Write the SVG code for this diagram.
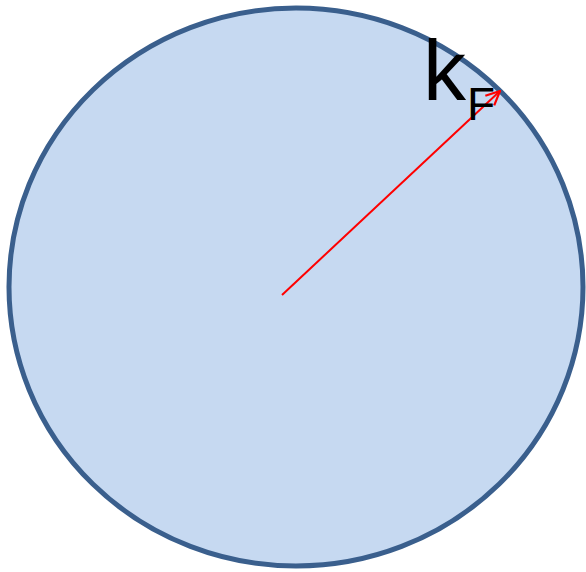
<svg xmlns="http://www.w3.org/2000/svg" width="586" height="572" viewBox="0 0 586 572">
<style>
.lbl{font-family:"Liberation Sans",Arial,sans-serif;fill:#000}
</style>
<defs>
<marker id="arr" viewBox="0 0 16 16" refX="15" refY="8" markerWidth="16" markerHeight="16" markerUnits="userSpaceOnUse" orient="auto">
<path d="M1,1.5 L15,8 L1,14.5" fill="none" stroke="#FF0000" stroke-width="2.2"/>
</marker>
</defs>
<g id="sphere">
<ellipse cx="296" cy="287" rx="287" ry="279" fill="#C6D9F1" stroke="#3A5F8D" stroke-width="5"/>
</g>
<g id="connectors">
<line x1="282" y1="295" x2="500" y2="91" stroke="#FF0000" stroke-width="2" marker-end="url(#arr)"/>
</g>
<g id="label">
<text class="lbl" x="423" y="100" font-size="86">k</text>
<text class="lbl" x="467" y="120" font-size="46">F</text>
</g>
</svg>
